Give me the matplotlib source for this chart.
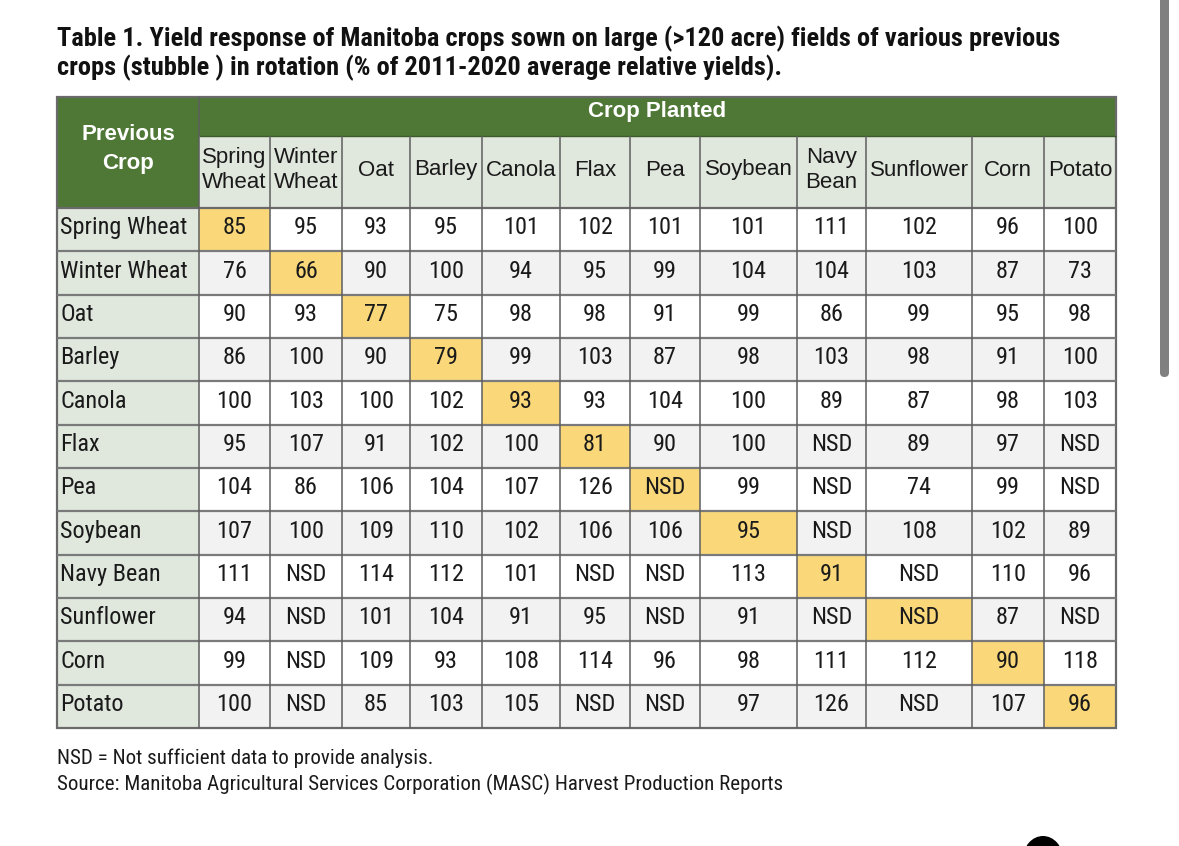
import matplotlib.pyplot as plt
from matplotlib import font_manager
from matplotlib.font_manager import FontProperties
from matplotlib.patches import Rectangle, FancyBboxPatch, Ellipse

# table content
title_lines = [
    "Table 1. Yield response of Manitoba crops sown on large (>120 acre) fields of various previous",
    "crops (stubble ) in rotation (% of 2011-2020 average relative yields).",
]
planted = ['Spring\nWheat', 'Winter\nWheat', 'Oat', 'Barley', 'Canola', 'Flax', 'Pea',
           'Soybean', 'Navy\nBean', 'Sunflower', 'Corn', 'Potato']
previous = ['Spring Wheat', 'Winter Wheat', 'Oat', 'Barley', 'Canola', 'Flax', 'Pea',
            'Soybean', 'Navy Bean', 'Sunflower', 'Corn', 'Potato']
# None = NSD
yields = [
    [85, 95, 93, 95, 101, 102, 101, 101, 111, 102, 96, 100],
    [76, 66, 90, 100, 94, 95, 99, 104, 104, 103, 87, 73],
    [90, 93, 77, 75, 98, 98, 91, 99, 86, 99, 95, 98],
    [86, 100, 90, 79, 99, 103, 87, 98, 103, 98, 91, 100],
    [100, 103, 100, 102, 93, 93, 104, 100, 89, 87, 98, 103],
    [95, 107, 91, 102, 100, 81, 90, 100, None, 89, 97, None],
    [104, 86, 106, 104, 107, 126, None, 99, None, 74, 99, None],
    [107, 100, 109, 110, 102, 106, 106, 95, None, 108, 102, 89],
    [111, None, 114, 112, 101, None, None, 113, 91, None, 110, 96],
    [94, None, 101, 104, 91, 95, None, 91, None, None, 87, None],
    [99, None, 109, 93, 108, 114, 96, 98, 111, 112, 90, 118],
    [100, None, 85, 103, 105, None, None, 97, 126, None, 107, 96],
]
notes = [
    "NSD = Not sufficient data to provide analysis.",
    "Source: Manitoba Agricultural Services Corporation (MASC) Harvest Production Reports",
]

# layout (pixels)
col_edges = [57, 199, 270, 342, 410, 482, 560, 630, 700, 797, 866, 972, 1044, 1116]
head_top, head_mid, head_bot = 97, 136, 208
row_h = 43.33

green = '#4f7836'
pale = '#e0e7dd'
grey_row = '#f2f2f2'
yellow = '#fad87a'
line_c = '#5e5e5e'


def stretch_val(s):
    if isinstance(s, int):
        return s
    return font_manager.stretch_dict.get(s, 500)


def weight_val(w):
    if isinstance(w, int):
        return w
    return font_manager.weight_dict.get(w, 400)


def narrow_font(bold=False):
    # look for an installed condensed sans face, else plain Liberation Sans
    prefs = ['Liberation Sans Narrow', 'Roboto Condensed', 'Roboto', 'Noto Sans',
             'Open Sans', 'DejaVu Sans', 'Liberation Sans']
    best = None
    for f in font_manager.fontManager.ttflist:
        cond = stretch_val(f.stretch) < 500 or 'Narrow' in f.name or 'Condensed' in f.name \
            or 'Condensed' in f.fname or 'Narrow' in f.fname
        if not cond or f.style != 'normal':
            continue
        w = weight_val(f.weight)
        if bold != (w >= 600):
            continue
        if bold and w > 750:
            continue
        if not bold and w < 350:
            continue
        rank = next((k for k, p in enumerate(prefs) if f.name.startswith(p)), 99)
        if best is None or rank < best[0]:
            best = (rank, f.fname)
    if best is None:
        return FontProperties(family='Liberation Sans', weight='bold' if bold else 'normal')
    return FontProperties(fname=best[1])


narrow = narrow_font(False)
narrow_b = narrow_font(True)
regular = 'Liberation Sans'

fig = plt.figure(figsize=(11.79, 8.46), dpi=100)
ax = fig.add_axes([0, 0, 1, 1])
ax.set_xlim(0, 1179)
ax.set_ylim(846, 0)
ax.axis('off')

# title
for i, line in enumerate(title_lines):
    ax.text(57, 46.5 + i * 28.5, line, fontproperties=narrow_b, fontsize=19,
            ha='left', va='baseline', color='#111111')

left, right = col_edges[0], col_edges[-1]

# header cells
ax.add_patch(Rectangle((left, head_top), col_edges[1] - left, head_bot - head_top,
                       facecolor=green, edgecolor='none'))
ax.add_patch(Rectangle((col_edges[1], head_top), right - col_edges[1], head_mid - head_top,
                       facecolor=green, edgecolor='none'))
ax.add_patch(Rectangle((col_edges[1], head_mid), right - col_edges[1], head_bot - head_mid,
                       facecolor=pale, edgecolor='none'))
ax.text((left + col_edges[1]) / 2, 149, 'Previous\nCrop', fontsize=16, fontweight='bold',
        family=regular, color='white', ha='center', va='center', linespacing=1.45)
ax.text((col_edges[1] + right) / 2, 111, 'Crop Planted', fontsize=16, fontweight='bold',
        family=regular, color='white', ha='center', va='center')
for j, name in enumerate(planted):
    cx = (col_edges[j + 1] + col_edges[j + 2]) / 2
    ax.text(cx, 170, name, fontsize=16, family=regular, color='#1a1a1a',
            ha='center', va='center', linespacing=1.2)

# body cells
for i, prev in enumerate(previous):
    top = head_bot + i * row_h
    ax.add_patch(Rectangle((left, top), col_edges[1] - left, row_h,
                           facecolor=pale, edgecolor='none'))
    ax.text(left + 3, top + row_h * 0.46, prev, fontproperties=narrow, fontsize=17.5,
            color='#1a1a1a', ha='left', va='center')
    for j, val in enumerate(yields[i]):
        x0, x1 = col_edges[j + 1], col_edges[j + 2]
        if i == j:
            fc = yellow
        elif i % 2 == 1:
            fc = grey_row
        else:
            fc = 'white'
        ax.add_patch(Rectangle((x0, top), x1 - x0, row_h, facecolor=fc, edgecolor='none'))
        label = 'NSD' if val is None else str(val)
        ax.text((x0 + x1) / 2, top + row_h * 0.46, label, fontproperties=narrow, fontsize=17.5,
                color='#1a1a1a', ha='center', va='center')

bottom = head_bot + len(previous) * row_h

# grid lines
row_lines = [head_bot + k * row_h for k in range(1, len(previous))]
ax.hlines(row_lines, left, right, colors='#7a7a7a', linewidth=1.6)
ax.hlines([head_bot], left, right, colors='#6a6a6a', linewidth=1.6)
ax.hlines([head_mid], col_edges[1], right, colors='#3d5a2a', linewidth=1.0)
ax.vlines(col_edges[2:-1], head_mid, bottom, colors=line_c, linewidth=1.1)
ax.vlines([col_edges[1]], head_top, bottom, colors=line_c, linewidth=1.1)
ax.add_patch(Rectangle((left, head_top), right - left, bottom - head_top,
                       facecolor='none', edgecolor='#6a6a6a', linewidth=1.6))

# footnotes
for i, note in enumerate(notes):
    ax.text(57, 764 + i * 26, note, fontproperties=narrow, fontsize=15.1, color='#1a1a1a',
            ha='left', va='baseline')

# page furniture: scrollbar and logo edge
ax.add_patch(FancyBboxPatch((1160, -10), 9, 387, boxstyle='round,pad=0,rounding_size=4.5',
                            facecolor='#808080', edgecolor='none'))
ax.add_patch(Ellipse((1043, 859), 40, 46, facecolor='black', edgecolor='none'))

fig.savefig('out.png', dpi=100)
